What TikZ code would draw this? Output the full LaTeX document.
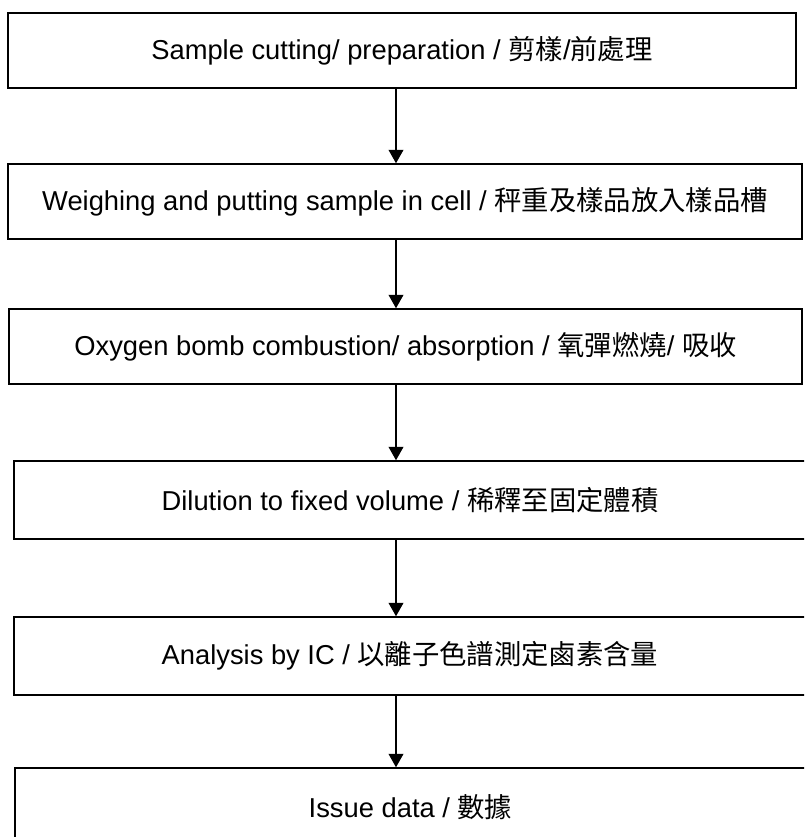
\documentclass[tikz,border=0pt]{standalone}
\usepackage{fontspec}
\setmainfont{Liberation Sans}
\newfontfamily\cjk{Noto Sans CJK TC}
\usetikzlibrary{arrows.meta}
\tikzset{
  procbox/.style={draw,line width=1.1pt,inner sep=0pt,font=\fontsize{20.5}{24}\selectfont},
  flow/.style={line width=1.1pt,-{Triangle[width=11pt,length=10pt]}}
}
% name, left, top, right, bottom, text
\newcommand{\flowbox}[6]{
\node[procbox,minimum width={(#4-#2)*0.75pt},minimum height={(#5-#3)*0.75pt}]
  (#1) at (.5*#2+.5*#4,.5*#3+.5*#5) {#6};
}

\begin{document}
\begin{tikzpicture}[x=0.75pt,y=-0.75pt]
\useasboundingbox (0,0) rectangle (804,837);
\clip (0,0) rectangle (804,837);

\flowbox{cut}{8}{13}{796}{88}{Sample cutting/ preparation / {\cjk 剪樣}/{\cjk 前處理}}
\flowbox{weigh}{8}{164}{802}{239}{Weighing and putting sample in cell / {\cjk 秤重及樣品放入樣品槽}}
\flowbox{bomb}{9}{309}{802}{384}{Oxygen bomb combustion/ absorption / {\cjk 氧彈燃燒}/ {\cjk 吸收}}
\flowbox{dilute}{14}{461}{806}{539}{Dilution to fixed volume / {\cjk 稀釋至固定體積}}
\flowbox{ic}{14}{617}{806}{695}{Analysis by IC / {\cjk 以離子色譜測定鹵素含量}}
\flowbox{issue}{15}{768}{806}{846}{Issue data / {\cjk 數據}}

\coordinate (ax) at (396,0);
\draw[flow] (cut.south -| ax) -- (weigh.north -| ax);
\draw[flow] (weigh.south -| ax) -- (bomb.north -| ax);
\draw[flow] (bomb.south -| ax) -- (dilute.north -| ax);
\draw[flow] (dilute.south -| ax) -- (ic.north -| ax);
\draw[flow] (ic.south -| ax) -- (issue.north -| ax);
\end{tikzpicture}
\end{document}
